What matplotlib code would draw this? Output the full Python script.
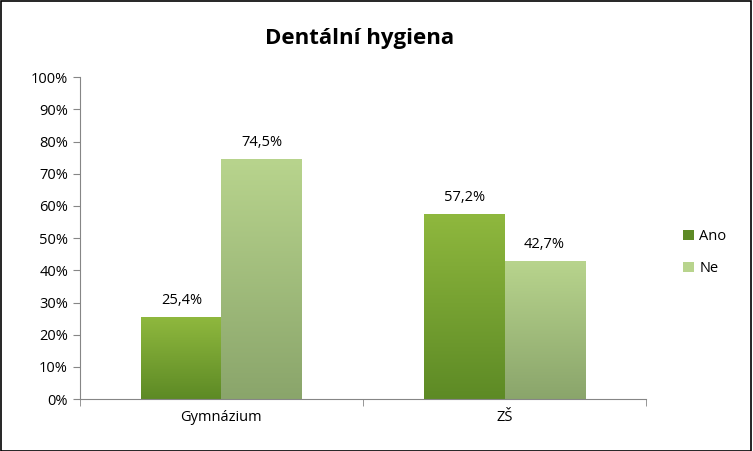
import matplotlib
matplotlib.use("Agg")
import matplotlib.pyplot as plt
import numpy as np
from matplotlib.colors import LinearSegmentedColormap
from matplotlib.patches import Patch

categories = ["Gymnázium", "ZŠ"]
series = ["Ano", "Ne"]
ano = [25.4, 57.2]
ne = [74.5, 42.7]
labels_ano = ["25,4%", "57,2%"]
labels_ne = ["74,5%", "42,7%"]
yticks = list(range(0, 101, 10))

plt.rcParams['font.family'] = ['Open Sans', 'DejaVu Sans']
fig = plt.figure(figsize=(7.53, 4.51), dpi=100)
fig.patches.append(plt.Rectangle((0.001, 0.001), 0.997, 0.996, transform=fig.transFigure,
                                 fill=False, edgecolor='black', linewidth=1.2))
ax = fig.add_axes([0.106, 0.115, 0.752, 0.714])
x = np.arange(len(categories))
w = 0.283
cols = {"Ano": ("#8fb83e", "#5d8a25"), "Ne": ("#b8d48d", "#8aa56b")}
for vals, labs, off, name in [(ano, labels_ano, -w/2, "Ano"), (ne, labels_ne, w/2, "Ne")]:
    bars = ax.bar(x + off, vals, w, color='none', edgecolor='none', zorder=2)
    cmap = LinearSegmentedColormap.from_list(name, [cols[name][1], cols[name][0]])
    for b, lab in zip(bars, labs):
        x0, y0, bw, bh = b.get_x(), b.get_y(), b.get_width(), b.get_height()
        grad = np.linspace(0, 1, 256).reshape(-1, 1)
        ax.imshow(grad, cmap=cmap, origin='lower', aspect='auto',
                  extent=(x0, x0 + bw, y0, y0 + bh), zorder=2)
        ax.text(x0 + bw/2, y0 + bh + 3, lab, ha='center', va='bottom', fontsize=10.5)
ax.set_xlim(-0.5, 1.5)
ax.set_ylim(0, 100)
ax.set_yticks(yticks)
ax.set_yticklabels([f"{t}%" for t in yticks], fontsize=10.5)
ax.set_xticks(x)
ax.set_xticklabels(categories, fontsize=10.5)
ax.set_xticks([-0.5, 0.5, 1.5], minor=True)
ax.tick_params(axis='x', which='major', length=0, pad=8)
ax.tick_params(axis='x', which='minor', length=5, color='#868686')
ax.tick_params(axis='y', length=5, color='#868686')
for s in ['top', 'right']:
    ax.spines[s].set_visible(False)
for s in ['left', 'bottom']:
    ax.spines[s].set_color('#868686')
fig.text(0.478, 0.915, "Dentální hygiena", ha='center', va='center', fontsize=16, fontweight='bold')
handles = [Patch(facecolor=cols["Ano"][1]), Patch(facecolor=cols["Ne"][0])]
fig.legend(handles, series, loc='center left', bbox_to_anchor=(0.89, 0.44), frameon=False,
           fontsize=10.5, handlelength=0.7, handleheight=0.7, labelspacing=1.2, handletextpad=0.4)
fig.savefig("out.png", dpi=100)
